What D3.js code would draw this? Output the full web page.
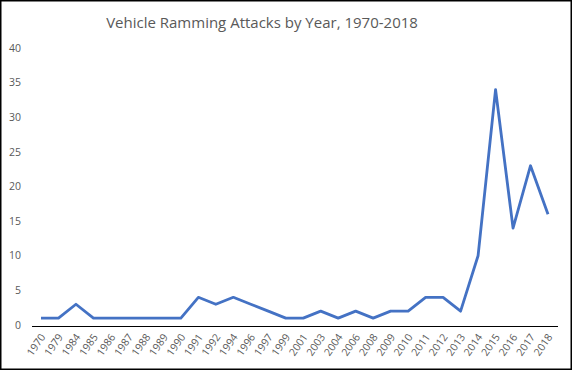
<!DOCTYPE html>
<html>
<head>
<meta charset="utf-8">
<script src="https://cdn.jsdelivr.net/npm/d3@7"></script>
<style>
  body { margin: 0; background: #fff; }
  svg { display: block; }
  text { font-family: "Open Sans", "Noto Sans", sans-serif; fill: #595959; }
</style>
</head>
<body>
<svg id="chart" width="573" height="371"></svg>
<script>
const years = ["1970","1979","1984","1985","1986","1987","1988","1989","1990","1991",
               "1992","1994","1996","1997","1999","2001","2003","2004","2006","2008",
               "2009","2010","2011","2012","2013","2014","2015","2016","2017","2018"];
const attacks = [1,1,3,1,1,1,1,1,1,4,
                 3,4,3,2,1,1,2,1,2,1,
                 2,2,4,4,2,10,34,14,23,16];
const yTicks = [0,5,10,15,20,25,30,35,40];
const title = "Vehicle Ramming Attacks by Year, 1970-2018";

const width = 573, height = 371;
const svg = d3.select('#chart');

// frame
svg.append('rect')
    .attr('x', 0.75).attr('y', 0.75)
    .attr('width', width - 2.5).attr('height', height - 2.5)
    .attr('fill', '#fff')
    .attr('stroke', '#000')
    .attr('stroke-width', 1.5);

svg.append('text')
    .attr('x', 262).attr('y', 28)
    .attr('text-anchor', 'middle')
    .style('font-size', '15px')
    .text(title);

let x = d3.scalePoint()
    .domain(years)
    .range([41, 548]);

let y = d3.scaleLinear()
    .domain([0, 40])
    .range([325, 48]);

// y labels, no gridlines
svg.append('g')
    .selectAll('text')
    .data(yTicks)
    .join('text')
    .attr('x', 21)
    .attr('y', d => y(d))
    .attr('dy', '0.35em')
    .attr('text-anchor', 'end')
    .style('font-size', '10.5px')
    .text(d => d);

// x axis line
svg.append('line')
    .attr('x1', 32).attr('x2', 558)
    .attr('y1', y(0) + 1.5).attr('y2', y(0) + 1.5)
    .attr('stroke', '#000')
    .attr('stroke-width', 1.2);

// x labels, rotated
svg.append('g')
    .selectAll('text')
    .data(years)
    .join('text')
    .attr('transform', d => `translate(${x(d) + 5},${y(0) + 12}) rotate(-55)`)
    .attr('text-anchor', 'end')
    .style('font-size', '10.5px')
    .text(d => d);

let line = d3.line()
    .x((d, i) => x(years[i]))
    .y(d => y(d));

svg.append('path')
    .datum(attacks)
    .attr('d', line)
    .attr('fill', 'none')
    .attr('stroke', '#4472C4')
    .attr('stroke-width', 2.8)
    .attr('stroke-linejoin', 'round');
</script>
</body>
</html>
